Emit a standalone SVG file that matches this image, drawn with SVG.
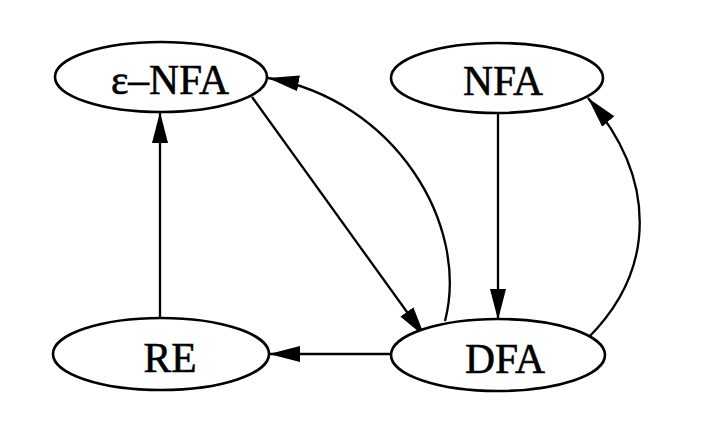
<svg xmlns="http://www.w3.org/2000/svg" width="710" height="423" viewBox="0 0 710 423">
<style>
.node ellipse{fill:#fff;stroke:#000;stroke-width:2.6}
.node text{font-family:"Liberation Serif","Times New Roman",serif;font-size:41.5px;fill:#000;stroke:#000;stroke-width:0.6;text-anchor:middle}
.edges path{fill:none;stroke:#000;stroke-width:2.3;marker-end:url(#ah)}
</style>
<defs>
<marker id="ah" markerWidth="32" markerHeight="16" refX="31" refY="8" orient="auto" markerUnits="userSpaceOnUse">
<path d="M0,0 L31,8 L0,16 Z" fill="#000"/>
</marker>
</defs>
<rect width="710" height="423" fill="#fff"/>
<g id="edges" class="edges">
<path d="M160,318 L160,112"/>
<path d="M252,97 L425,337"/>
<path d="M445,321 C470,225 395,100 268,78"/>
<path d="M498,113 L498,320"/>
<path d="M588,338 C657,269 657,178 588,98"/>
<path d="M391,354 L269,354"/>
</g>
<g id="enfa" class="node"><ellipse cx="161" cy="77" rx="106" ry="35"/><text x="170" y="94">ε–NFA</text></g>
<g id="nfa" class="node"><ellipse cx="497" cy="78" rx="106" ry="35"/><text x="503" y="95">NFA</text></g>
<g id="re" class="node"><ellipse cx="161" cy="354" rx="108" ry="36"/><text x="170" y="372">RE</text></g>
<g id="dfa" class="node"><ellipse cx="498" cy="355" rx="107" ry="36"/><text x="505" y="373">DFA</text></g>
</svg>
